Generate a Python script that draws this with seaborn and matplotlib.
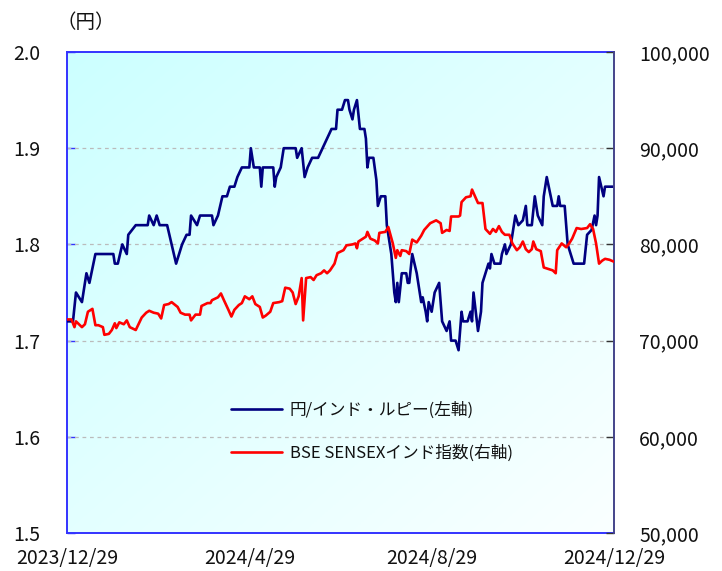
import numpy as np
import pandas as pd
import matplotlib
matplotlib.use("Agg")
import matplotlib.pyplot as plt
from matplotlib.colors import LinearSegmentedColormap
from matplotlib.lines import Line2D
import seaborn as sns

# ---------------- data ----------------
jpy_dates = ["2023-12-29","2024-01-02","2024-01-04","2024-01-08","2024-01-11","2024-01-13","2024-01-17",
    "2024-01-29","2024-01-30","2024-02-01","2024-02-04","2024-02-07","2024-02-08","2024-02-13","2024-02-21",
    "2024-02-22","2024-02-25","2024-02-27","2024-02-29","2024-03-05","2024-03-11","2024-03-15","2024-03-18",
    "2024-03-20","2024-03-21","2024-03-25","2024-03-27","2024-04-04","2024-04-05","2024-04-08","2024-04-11",
    "2024-04-14","2024-04-16","2024-04-19","2024-04-21","2024-04-24","2024-04-29","2024-04-30","2024-05-02",
    "2024-05-06","2024-05-07","2024-05-08","2024-05-15","2024-05-16","2024-05-17","2024-05-20","2024-05-21",
    "2024-05-22","2024-05-30","2024-05-31","2024-06-03","2024-06-05","2024-06-07","2024-06-10","2024-06-14",
    "2024-06-17","2024-06-20","2024-06-23","2024-06-26","2024-06-27","2024-06-30","2024-07-02","2024-07-04",
    "2024-07-05","2024-07-07","2024-07-08","2024-07-10","2024-07-12","2024-07-15","2024-07-16","2024-07-17",
    "2024-07-18","2024-07-21","2024-07-23","2024-07-24","2024-07-26","2024-07-29","2024-07-30","2024-08-02",
    "2024-08-04","2024-08-05","2024-08-06","2024-08-07","2024-08-09","2024-08-12","2024-08-13","2024-08-14",
    "2024-08-16","2024-08-19","2024-08-22","2024-08-23","2024-08-25","2024-08-26","2024-08-27","2024-08-29",
    "2024-08-31","2024-09-03","2024-09-05","2024-09-08","2024-09-10","2024-09-11","2024-09-14","2024-09-16",
    "2024-09-18","2024-09-19","2024-09-22","2024-09-24","2024-09-25","2024-09-26","2024-09-29","2024-10-01",
    "2024-10-02","2024-10-04","2024-10-06","2024-10-07","2024-10-08","2024-10-10","2024-10-14","2024-10-15",
    "2024-10-17","2024-10-18","2024-10-21","2024-10-23","2024-10-24","2024-10-26","2024-10-29","2024-10-31",
    "2024-11-01","2024-11-04","2024-11-06","2024-11-08","2024-11-11","2024-11-12","2024-11-14","2024-11-18",
    "2024-11-21","2024-11-22","2024-11-23","2024-11-26","2024-11-28","2024-12-02","2024-12-09","2024-12-11",
    "2024-12-14","2024-12-16","2024-12-17","2024-12-18","2024-12-19","2024-12-22","2024-12-23","2024-12-29"]
jpy_inr = [1.72,1.72,1.75,1.74,1.77,1.76,1.79,
    1.79,1.78,1.78,1.80,1.79,1.81,1.82,1.82,
    1.83,1.82,1.83,1.82,1.82,1.78,1.80,1.81,
    1.81,1.83,1.82,1.83,1.83,1.82,1.83,1.85,
    1.85,1.86,1.86,1.87,1.88,1.88,1.90,1.88,
    1.88,1.86,1.88,1.88,1.86,1.87,1.88,1.89,
    1.90,1.90,1.89,1.90,1.87,1.88,1.89,1.89,
    1.90,1.91,1.92,1.92,1.94,1.94,1.95,1.95,
    1.94,1.93,1.94,1.95,1.92,1.92,1.91,1.88,
    1.89,1.89,1.867,1.84,1.85,1.85,1.82,1.79,
    1.75,1.74,1.76,1.74,1.77,1.77,1.76,1.76,
    1.79,1.77,1.74,1.745,1.73,1.72,1.74,1.73,
    1.75,1.76,1.72,1.71,1.72,1.70,1.70,1.69,
    1.73,1.72,1.72,1.73,1.72,1.75,1.71,1.73,
    1.76,1.77,1.78,1.775,1.79,1.78,1.78,1.79,
    1.80,1.79,1.80,1.82,1.83,1.82,1.825,1.84,
    1.82,1.82,1.85,1.83,1.82,1.85,1.87,1.84,
    1.84,1.85,1.84,1.84,1.80,1.78,1.78,1.81,
    1.815,1.83,1.82,1.83,1.87,1.85,1.86,1.86]

sensex_dates = ["2023-12-29","2024-01-01","2024-01-03","2024-01-04","2024-01-08","2024-01-10","2024-01-12",
    "2024-01-15","2024-01-17","2024-01-19","2024-01-22","2024-01-23","2024-01-26","2024-01-28","2024-01-30",
    "2024-01-31","2024-02-02","2024-02-05","2024-02-07","2024-02-09","2024-02-13","2024-02-17","2024-02-20",
    "2024-02-22","2024-02-25","2024-02-28","2024-03-01","2024-03-03","2024-03-06","2024-03-08","2024-03-12",
    "2024-03-14","2024-03-17","2024-03-20","2024-03-21","2024-03-24","2024-03-27","2024-03-28","2024-04-01",
    "2024-04-03","2024-04-04","2024-04-08","2024-04-10","2024-04-12","2024-04-15","2024-04-17","2024-04-19",
    "2024-04-22","2024-04-24","2024-04-26","2024-04-29","2024-05-01","2024-05-03","2024-05-06","2024-05-08",
    "2024-05-10","2024-05-13","2024-05-15","2024-05-19","2024-05-21","2024-05-23","2024-05-26","2024-05-28",
    "2024-05-30","2024-06-01","2024-06-03","2024-06-04","2024-06-06","2024-06-09","2024-06-11","2024-06-13",
    "2024-06-16","2024-06-18","2024-06-20","2024-06-22","2024-06-25","2024-06-27","2024-07-01","2024-07-03",
    "2024-07-07","2024-07-09","2024-07-10","2024-07-11","2024-07-13","2024-07-16","2024-07-17","2024-07-19",
    "2024-07-22","2024-07-24","2024-07-25","2024-07-29","2024-07-31","2024-08-03","2024-08-05","2024-08-06",
    "2024-08-08","2024-08-09","2024-08-12","2024-08-14","2024-08-16","2024-08-19","2024-08-22","2024-08-24",
    "2024-08-28","2024-09-01","2024-09-04","2024-09-05","2024-09-08","2024-09-10","2024-09-11","2024-09-16",
    "2024-09-17","2024-09-18","2024-09-21","2024-09-24","2024-09-25","2024-09-27","2024-09-29","2024-10-02",
    "2024-10-04","2024-10-07","2024-10-09","2024-10-11","2024-10-13","2024-10-15","2024-10-17","2024-10-20",
    "2024-10-22","2024-10-25","2024-10-27","2024-10-29","2024-10-31","2024-11-02","2024-11-04","2024-11-05",
    "2024-11-07","2024-11-10","2024-11-12","2024-11-16","2024-11-18","2024-11-20","2024-11-21","2024-11-24",
    "2024-11-27","2024-11-29","2024-12-01","2024-12-04","2024-12-07","2024-12-11","2024-12-13","2024-12-15",
    "2024-12-17","2024-12-19","2024-12-21","2024-12-23","2024-12-26","2024-12-29"]
sensex = [72200,72200,71400,72000,71400,71700,73000,
    73300,71600,71600,71400,70600,70700,71100,71800,
    71300,71900,71700,72100,71400,71100,72400,72900,
    73100,72900,72800,72300,73700,73800,74000,73500,
    72900,72700,72700,72100,72700,72700,73600,73900,
    73900,74200,74500,74900,74200,73200,72500,73200,
    73700,73900,74600,74300,74600,73800,73500,72400,
    72600,73000,73900,74000,74100,75500,75400,75000,
    73800,74600,76500,72100,76500,76600,76300,76800,
    77000,77300,77000,77300,78000,79100,79400,79900,
    80000,80100,79600,80300,80500,80800,81300,80600,
    80400,80100,81200,81300,81800,80100,78600,79400,
    78800,79400,79300,79000,80500,80200,80900,81500,
    82200,82500,82200,81200,81500,81400,82900,82900,
    83000,84400,84900,85000,85700,85000,84300,84300,
    81600,81100,81600,81300,81900,81300,81000,81000,
    80100,79400,79700,80300,79500,79200,79500,80300,
    79500,79300,77600,77400,77300,77000,79400,80100,
    79700,80100,80600,81700,81600,81700,82100,81600,
    80100,78000,78300,78500,78400,78200]

x_tick_dates = ["2023-12-29", "2024-04-29", "2024-08-29", "2024-12-29"]
x_tick_labels = ["2023/12/29", "2024/4/29", "2024/8/29", "2024/12/29"]
left_ticks = [1.5, 1.6, 1.7, 1.8, 1.9, 2.0]
right_ticks = [50000, 60000, 70000, 80000, 90000, 100000]
label_jpy = "円/インド・ルピー(左軸)"
label_sensex = "BSE SENSEXインド指数(右軸)"
unit_label = "（円）"

df_jpy = pd.DataFrame({"date": pd.to_datetime(jpy_dates), "value": jpy_inr})
df_sx = pd.DataFrame({"date": pd.to_datetime(sensex_dates), "value": sensex})

# ---------------- style ----------------
sns.set_theme(style="white")
plt.rcParams["font.family"] = ["Noto Sans CJK JP", "DejaVu Sans"]

BLUE = "#000080"
RED = "#FF0000"
SPINE = "#3333FF"
TXT = "#111111"

fig = plt.figure(figsize=(7.22, 5.71), dpi=100)
ax = fig.add_axes([67/722, 38/571, 547/722, 481/571])
ax2 = ax.twinx()

# background gradient: cyan top-left -> near white bottom-right
cmap = LinearSegmentedColormap.from_list("bg", ["#CCFFFF", "#FAFFFF"])
gx, gy = np.meshgrid(np.linspace(0, 1, 200), np.linspace(0, 1, 200))
grad = (gx + gy) / 2
ax.imshow(grad, cmap=cmap, extent=[0, 1, 0, 1], transform=ax.transAxes,
          aspect="auto", origin="upper", zorder=0, interpolation="bilinear")

sns.lineplot(data=df_jpy, x="date", y="value", ax=ax, color=BLUE, lw=1.9, zorder=3)
sns.lineplot(data=df_sx, x="date", y="value", ax=ax2, color=RED, lw=1.9, zorder=3)

xmin, xmax = pd.Timestamp("2023-12-29"), pd.Timestamp("2024-12-29")
ax.set_xlim(xmin, xmax)
ax.set_ylim(1.5, 2.0)
ax2.set_ylim(50000, 100000)

ax.set_xticks(pd.to_datetime(x_tick_dates))
ax.set_xticklabels(x_tick_labels)
ax.set_yticks(left_ticks)
ax.set_yticklabels([f"{v:.1f}" for v in left_ticks])
ax2.set_yticks(right_ticks)
ax2.set_yticklabels([f"{v:,}" for v in right_ticks])

for a in (ax, ax2):
    a.set_xlabel("")
    a.set_ylabel("")

ax.grid(False)
ax2.grid(False)
for v in left_ticks[1:-1]:
    ax.axhline(v, color="#BBBBBB", lw=0.9, ls=(0, (3, 3)), zorder=1)

FS = 14
ax.tick_params(axis="x", direction="in", length=6, color=SPINE, width=1,
               labelsize=FS, pad=10.5, labelcolor=TXT)
ax.tick_params(axis="y", direction="in", length=6, color=SPINE, width=1,
               labelsize=FS, pad=19, labelcolor=TXT, left=True)
ax2.tick_params(axis="y", direction="in", length=6, color="#333333", width=1,
                labelsize=FS, pad=18, labelcolor=TXT, right=True)

for name in ("left", "top", "bottom"):
    ax.spines[name].set_color(SPINE)
    ax.spines[name].set_linewidth(1.4)
    ax2.spines[name].set_visible(False)
ax.spines["right"].set_visible(False)
ax2.spines["right"].set_color("#44448A")
ax2.spines["right"].set_linewidth(1.4)

fig.text(56/722, 1 - 23/571, unit_label, ha="left", va="center", fontsize=FS, color=TXT)

handles = [Line2D([], [], color=BLUE, lw=1.9), Line2D([], [], color=RED, lw=1.9)]
leg = ax2.legend(handles, [label_jpy, label_sensex], loc="upper left",
                 bbox_to_anchor=(0.272, 0.305), frameon=False, fontsize=12,
                 handlelength=3.1, handletextpad=0.45, labelspacing=1.55)
for t in leg.get_texts():
    t.set_color(TXT)

fig.savefig("out.png", dpi=100)
